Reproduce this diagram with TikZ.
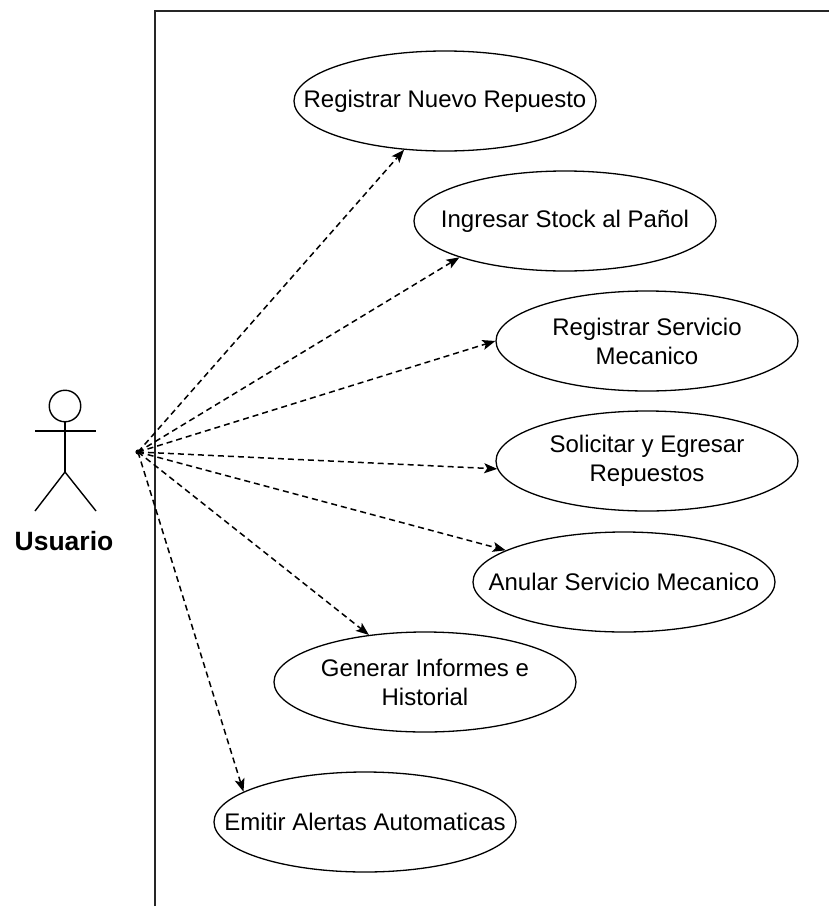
\documentclass[tikz,border=0pt]{standalone}
\usepackage{fontspec}
\setmainfont{Liberation Sans}
\usetikzlibrary{arrows.meta,shapes.geometric}
\tikzset{
  uc/.style={ellipse, draw=black, line width=1.3pt, minimum width=302pt, minimum height=100pt, inner sep=0pt},
  uctext/.style={align=center, font=\fontsize{24}{29}\selectfont, inner sep=0pt},
  assoc/.style={draw=black, line width=1.5pt, dash pattern=on 6pt off 4pt, -{Stealth[length=13pt,width=10pt,inset=3pt]}},
  stick/.style={draw=black, line width=1.4pt},
}
\begin{document}
\begin{tikzpicture}[x=1pt,y=-1pt]
\useasboundingbox (0,0) rectangle (828,908);
\fill[white] (0,0) rectangle (828,908);
% system boundary
\draw[line width=1.6pt, draw=black!85] (155,906) -- (155,11) -- (840,11);
% actor
\node[circle, draw=black, line width=1.4pt, minimum size=31.5pt, inner sep=0pt] (head) at (65,406) {};
\coordinate (hip) at (65,472);
\coordinate (armL) at (35,431);
\coordinate (armR) at (96,431);
\coordinate (legL) at (35,511);
\coordinate (legR) at (96,511);
\draw[stick] (head.south) -- (hip);
\draw[stick] (armL) -- (armR);
\draw[stick] (legL) -- (hip) -- (legR);
\node[font=\fontsize{26.5}{30}\selectfont\bfseries, inner sep=0pt] (usuario) at (64,541) {Usuario};
% source point
\coordinate (src) at (138,452);
\fill[black] (src) circle (2.6pt);
% use cases
\node[uc] (e1) at (445,101) {};
\node[uctext] at (e1) {Registrar Nuevo Repuesto};
\node[uc] (e2) at (565,221) {};
\node[uctext] at (e2) {Ingresar Stock al Pañol};
\node[uc] (e3) at (647,341) {};
\node[uctext] at (e3) {Registrar Servicio\\Mecanico};
\node[uc] (e4) at (647,461) {};
\node[uctext] at (e4) {Solicitar y Egresar\\Repuestos};
\node[uc] (e5) at (624,582) {};
\node[uctext] at (e5) {Anular Servicio Mecanico};
\node[uc] (e6) at (425,682) {};
\node[uctext] at (e6) {Generar Informes e\\Historial};
\node[uc] (e7) at (365,822) {};
\node[uctext] at (e7) {Emitir Alertas Automaticas};
% associations
\draw[assoc] (src) -- (e1.230);
\draw[assoc] (src) -- (e2.199);
\draw[assoc] (src) -- (e3.180);
\draw[assoc] (src) -- (e4.183);
\draw[assoc] (src) -- (e5.165);
\draw[assoc] (src) -- (e6.140);
\draw[assoc] (src) -- (e7.166);
\end{tikzpicture}
\end{document}
